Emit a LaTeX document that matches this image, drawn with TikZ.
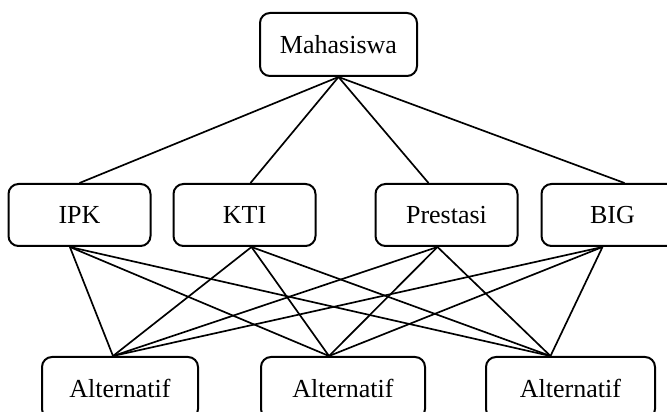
\documentclass[tikz,border=0pt]{standalone}
\usepackage{fontspec}
\setmainfont{Liberation Serif}
\usepackage{tikz}
\usetikzlibrary{positioning, calc}
\tikzstyle{goal} = [rectangle, rounded corners=.25cm, minimum width=3.925cm, minimum height=1.575cm, text centered, draw=black, line width=.5mm, font=\fontsize{18.5}{22}\selectfont]
\tikzstyle{criteria} = [rectangle, rounded corners=.25cm, minimum width=3.55cm, minimum height=1.55cm, text centered, draw=black, line width=.5mm, font=\fontsize{18.5}{22}\selectfont]
\tikzstyle{alt} = [rectangle, rounded corners=.25cm, minimum height=1.55cm, text centered, draw=black, line width=.5mm, font=\fontsize{18.5}{22}\selectfont]
\tikzstyle{link} = [black, line width=.42mm]

\begin{document}
\begin{tikzpicture}[node distance=.525cm and .525cm]
            \useasboundingbox (0,0) rectangle (16.675,10.3);
            \clip (0,0) rectangle (16.675,10.3);
            \node (mhs) [goal] at (8.4625,9.1875) {Mahasiswa};
            \node (ipk) [criteria] at (1.9875,4.925) {IPK};
            \node (kti) [criteria, right=.525cm of ipk] {KTI};
            \node (pres) [criteria, right=1.45cm of kti] {Prestasi};
            \node (big) [criteria, right=.55cm of pres] {BIG};

            \node (alt1) [alt, minimum width=3.9cm] at (3,.6) {Alternatif};
            \node (alt2) [alt, minimum width=4.1cm] at (8.575,.6) {Alternatif};
            \node (alt3) [alt, minimum width=4.225cm] at (14.2625,.6) {Alternatif};

            \draw [link] (mhs.south) -- (ipk.north);
            \draw [link] (mhs.south) -- ($(kti.north) + (.15, 0)$);
            \draw [link] (mhs.south) -- ($(pres.north) + (-.45, 0)$);
            \draw [link] (mhs.south) -- ($(big.north) + (.3, 0)$);

            \draw [link] ($(ipk.south) + (-.24, 0)$) -- ($(alt1.north) + (-.175, 0)$);
            \draw [link] ($(ipk.south) + (-.24, 0)$) -- ($(alt2.north) + (-.35, 0)$);
            \draw [link] ($(ipk.south) + (-.24, 0)$) -- ($(alt3.north) + (-.5, 0)$);
            \draw [link] ($(kti.south) + (.175, 0)$) -- ($(alt1.north) + (-.175, 0)$);
            \draw [link] ($(kti.south) + (.175, 0)$) -- ($(alt2.north) + (-.35, 0)$);
            \draw [link] ($(kti.south) + (.175, 0)$) -- ($(alt3.north) + (-.5, 0)$);
            \draw [link] ($(pres.south) + (-.225, 0)$) -- ($(alt1.north) + (-.175, 0)$);
            \draw [link] ($(pres.south) + (-.225, 0)$) -- ($(alt2.north) + (-.35, 0)$);
            \draw [link] ($(pres.south) + (-.225, 0)$) -- ($(alt3.north) + (-.5, 0)$);
            \draw [link] ($(big.south) + (-.25, 0)$) -- ($(alt1.north) + (-.175, 0)$);
            \draw [link] ($(big.south) + (-.25, 0)$) -- ($(alt2.north) + (-.35, 0)$);
            \draw [link] ($(big.south) + (-.25, 0)$) -- ($(alt3.north) + (-.5, 0)$);
        \end{tikzpicture}
\end{document}
